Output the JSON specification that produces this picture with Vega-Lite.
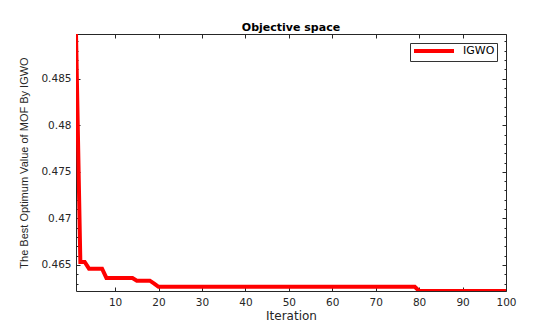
{
  "$schema": "https://vega.github.io/schema/vega-lite/v6.json",
  "width": 430,
  "height": 257,
  "autosize": {"type": "none"},
  "padding": {"left": 76, "top": 34, "right": 49, "bottom": 36},
  "background": "white",
  "title": {"text": "Objective space", "font": "DejaVu Sans", "fontSize": 11, "fontWeight": "bold", "color": "#000000", "offset": -2, "anchor": "middle"},
  "config": {
    "font": "DejaVu Sans",
    "view": {"stroke": null},
    "axis": {"grid": false, "domainColor": "#262626", "domainWidth": 1, "tickColor": "#262626", "tickWidth": 1, "labelColor": "#262626", "titleColor": "#262626", "labelFont": "DejaVu Sans", "titleFont": "DejaVu Sans", "labelFontSize": 10.5, "titleFontSize": 12, "titleFontWeight": "normal"},
    "legend": {"labelFont": "DejaVu Sans"}
  },
  "data": {"values": [
    {"iter": 1, "val": 0.4898}, {"iter": 2, "val": 0.46532}, {"iter": 3, "val": 0.46532},
    {"iter": 4, "val": 0.4646}, {"iter": 5, "val": 0.4646}, {"iter": 6, "val": 0.4646}, {"iter": 7, "val": 0.4646},
    {"iter": 8, "val": 0.4636}, {"iter": 9, "val": 0.4636}, {"iter": 10, "val": 0.4636}, {"iter": 11, "val": 0.4636}, {"iter": 12, "val": 0.4636}, {"iter": 13, "val": 0.4636}, {"iter": 14, "val": 0.4636},
    {"iter": 15, "val": 0.46331}, {"iter": 16, "val": 0.46331}, {"iter": 17, "val": 0.46331}, {"iter": 18, "val": 0.46331},
    {"iter": 19, "val": 0.4630},
    {"iter": 20, "val": 0.46265}, {"iter": 21, "val": 0.46265}, {"iter": 22, "val": 0.46265}, {"iter": 23, "val": 0.46265}, {"iter": 24, "val": 0.46265}, {"iter": 25, "val": 0.46265}, {"iter": 26, "val": 0.46265}, {"iter": 27, "val": 0.46265}, {"iter": 28, "val": 0.46265}, {"iter": 29, "val": 0.46265},
    {"iter": 30, "val": 0.46265}, {"iter": 31, "val": 0.46265}, {"iter": 32, "val": 0.46265}, {"iter": 33, "val": 0.46265}, {"iter": 34, "val": 0.46265}, {"iter": 35, "val": 0.46265}, {"iter": 36, "val": 0.46265}, {"iter": 37, "val": 0.46265}, {"iter": 38, "val": 0.46265}, {"iter": 39, "val": 0.46265},
    {"iter": 40, "val": 0.46265}, {"iter": 41, "val": 0.46265}, {"iter": 42, "val": 0.46265}, {"iter": 43, "val": 0.46265}, {"iter": 44, "val": 0.46265}, {"iter": 45, "val": 0.46265}, {"iter": 46, "val": 0.46265}, {"iter": 47, "val": 0.46265}, {"iter": 48, "val": 0.46265}, {"iter": 49, "val": 0.46265},
    {"iter": 50, "val": 0.46265}, {"iter": 51, "val": 0.46265}, {"iter": 52, "val": 0.46265}, {"iter": 53, "val": 0.46265}, {"iter": 54, "val": 0.46265}, {"iter": 55, "val": 0.46265}, {"iter": 56, "val": 0.46265}, {"iter": 57, "val": 0.46265}, {"iter": 58, "val": 0.46265}, {"iter": 59, "val": 0.46265},
    {"iter": 60, "val": 0.46265}, {"iter": 61, "val": 0.46265}, {"iter": 62, "val": 0.46265}, {"iter": 63, "val": 0.46265}, {"iter": 64, "val": 0.46265}, {"iter": 65, "val": 0.46265}, {"iter": 66, "val": 0.46265}, {"iter": 67, "val": 0.46265}, {"iter": 68, "val": 0.46265}, {"iter": 69, "val": 0.46265},
    {"iter": 70, "val": 0.46265}, {"iter": 71, "val": 0.46265}, {"iter": 72, "val": 0.46265}, {"iter": 73, "val": 0.46265}, {"iter": 74, "val": 0.46265}, {"iter": 75, "val": 0.46265}, {"iter": 76, "val": 0.46265}, {"iter": 77, "val": 0.46265}, {"iter": 78, "val": 0.46265}, {"iter": 79, "val": 0.46265},
    {"iter": 80, "val": 0.4622}, {"iter": 81, "val": 0.4622}, {"iter": 82, "val": 0.4622}, {"iter": 83, "val": 0.4622}, {"iter": 84, "val": 0.4622}, {"iter": 85, "val": 0.4622}, {"iter": 86, "val": 0.4622}, {"iter": 87, "val": 0.4622}, {"iter": 88, "val": 0.4622}, {"iter": 89, "val": 0.4622},
    {"iter": 90, "val": 0.4622}, {"iter": 91, "val": 0.4622}, {"iter": 92, "val": 0.4622}, {"iter": 93, "val": 0.4622}, {"iter": 94, "val": 0.4622}, {"iter": 95, "val": 0.4622}, {"iter": 96, "val": 0.4622}, {"iter": 97, "val": 0.4622}, {"iter": 98, "val": 0.4622}, {"iter": 99, "val": 0.4622},
    {"iter": 100, "val": 0.4622}
  ]},
  "transform": [{"calculate": "'IGWO'", "as": "series"}],
  "layer": [
    {
      "mark": {"type": "line", "strokeWidth": 4, "clip": true, "interpolate": "linear"},
      "encoding": {
        "x": {"field": "iter", "type": "quantitative", "scale": {"domain": [1, 100], "nice": false, "zero": false},
          "axis": {"orient": "bottom", "title": "Iteration", "values": [10, 20, 30, 40, 50, 60, 70, 80, 90, 100], "tickSize": -4, "labelPadding": 10, "titlePadding": 3, "labelFlush": false}},
        "y": {"field": "val", "type": "quantitative", "scale": {"domain": [0.4622, 0.4898], "nice": false, "zero": false},
          "axis": {"orient": "left", "title": "The Best Optimum Value of MOF By IGWO", "titleFont": "Liberation Sans", "titleFontSize": 11,
            "values": [0.463, 0.464, 0.465, 0.466, 0.467, 0.468, 0.469, 0.47, 0.471, 0.472, 0.473, 0.474, 0.475, 0.476, 0.477, 0.478, 0.479, 0.48, 0.481, 0.482, 0.483, 0.484, 0.485, 0.486, 0.487, 0.488, 0.489],
            "labelExpr": "abs(round(datum.value*1000) % 5) == 0 ? format(datum.value, '~g') : ''",
            "tickSize": {"condition": {"test": "abs(round(datum.value*1000) % 5) == 0", "value": -4}, "value": -2},
            "labelPadding": 9, "titlePadding": 11, "labelFlush": false}},
        "color": {"field": "series", "type": "nominal", "scale": {"range": ["#ff0000"]},
          "legend": {"title": null, "orient": "top-right", "offset": 9, "symbolType": "M-1,0H9", "symbolSize": 64, "symbolStrokeWidth": 4, "labelFontSize": 11, "labelColor": "#000000", "strokeColor": "#333333", "fillColor": "white", "padding": 2, "labelOffset": 39}}
      }
    },
    {
      "mark": {"type": "point", "opacity": 0},
      "encoding": {
        "x": {"field": "iter", "type": "quantitative",
          "axis": {"orient": "top", "title": null, "labels": false, "values": [10, 20, 30, 40, 50, 60, 70, 80, 90, 100], "tickSize": -4}},
        "y": {"field": "val", "type": "quantitative",
          "axis": {"orient": "right", "title": null, "labels": false,
            "values": [0.463, 0.464, 0.465, 0.466, 0.467, 0.468, 0.469, 0.47, 0.471, 0.472, 0.473, 0.474, 0.475, 0.476, 0.477, 0.478, 0.479, 0.48, 0.481, 0.482, 0.483, 0.484, 0.485, 0.486, 0.487, 0.488, 0.489],
            "tickSize": {"condition": {"test": "abs(round(datum.value*1000) % 5) == 0", "value": -4}, "value": -2}}}
      }
    }
  ],
  "resolve": {"axis": {"x": "independent", "y": "independent"}}
}
